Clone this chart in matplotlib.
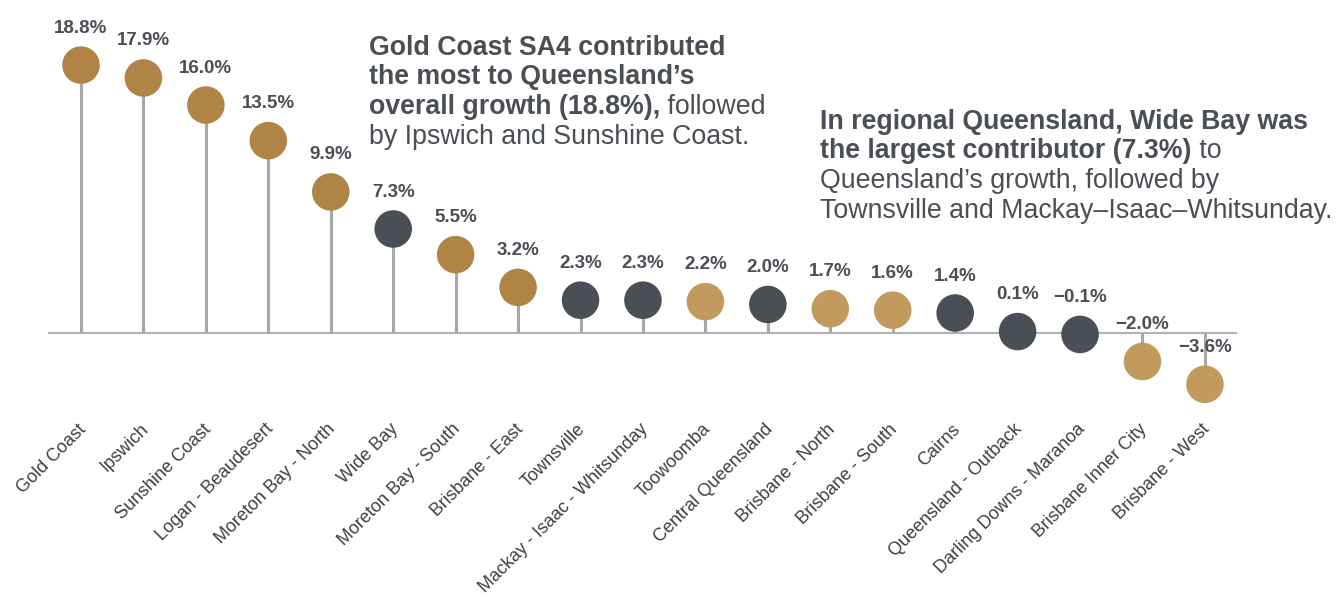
import matplotlib
matplotlib.use('Agg')
import matplotlib.pyplot as plt

plt.rcParams['font.family'] = ['Liberation Sans', 'DejaVu Sans']

# SA4 regions, share of Queensland's population growth (%)
regions = ['Gold Coast', 'Ipswich', 'Sunshine Coast', 'Logan - Beaudesert',
           'Moreton Bay - North', 'Wide Bay', 'Moreton Bay - South',
           'Brisbane - East', 'Townsville', 'Mackay - Isaac - Whitsunday',
           'Toowoomba', 'Central Queensland', 'Brisbane - North',
           'Brisbane - South', 'Cairns', 'Queensland - Outback',
           'Darling Downs - Maranoa', 'Brisbane Inner City', 'Brisbane - West']
growth_share = [18.8, 17.9, 16.0, 13.5, 9.9, 7.3, 5.5, 3.2, 2.3, 2.3,
                2.2, 2.0, 1.7, 1.6, 1.4, 0.1, -0.1, -2.0, -3.6]
area_type = ['outer', 'outer', 'outer', 'outer', 'outer', 'regional', 'outer',
             'outer', 'regional', 'regional', 'inner', 'regional', 'inner',
             'inner', 'regional', 'regional', 'regional', 'inner', 'inner']

colours = {'outer': '#B08445', 'regional': '#4A4E55', 'inner': '#C29A5E'}
text_col = '#4A4F55'

W, H = 1340, 597
fig = plt.figure(figsize=(W / 100, H / 100), dpi=100)
ax = fig.add_axes([0, 0, 1, 1])
ax.set_xlim(-1.297, 20.163)
ax.set_ylim(-18.53, 23.37)
ax.axis('off')

x = list(range(len(regions)))
ax.hlines(0, -0.53, len(regions) - 0.49, color='#B3B3B3', lw=1.5, zorder=1)
ax.vlines(x, 0, growth_share, color='#A8A8A8', lw=2.2, zorder=2)
ax.scatter(x, growth_share, s=730, c=[colours[a] for a in area_type],
           linewidths=0, zorder=3)

for i, v in enumerate(growth_share):
    lbl = f'{v:.1f}%'.replace('-', '\u2212')
    ax.annotate(lbl, (i, v), xytext=(0, 26.6), textcoords='offset points',
                ha='center', va='center', fontsize=13.5, fontweight='bold',
                color=text_col)
    ax.text(i - 0.06, -6.15, regions[i], rotation=45, rotation_mode='anchor',
            ha='right', va='top', fontsize=13, color='#404040')


# commentary blocks: list of lines, each line a list of (text, bold)
def text_block(x0, y0, lines, step=29.5, size=19.3):
    renderer = fig.canvas.get_renderer()
    for k, parts in enumerate(lines):
        xp = x0
        yp = y0 + k * step
        for txt, bold in parts:
            t = fig.text(xp / W, 1 - yp / H, txt, fontsize=size,
                         fontweight='bold' if bold else 'normal',
                         color=text_col, ha='left', va='baseline')
            xp = t.get_window_extent(renderer).x1


text_block(369, 55, [
    [('Gold Coast SA4 contributed', True)],
    [('the most to Queensland\u2019s', True)],
    [('overall growth (18.8%),', True), (' followed', False)],
    [('by Ipswich and Sunshine Coast.', False)],
])

text_block(820, 129, [
    [('In regional Queensland, Wide Bay was', True)],
    [('the largest contributor (7.3%)', True), (' to', False)],
    [('Queensland\u2019s growth, followed by', False)],
    [('Townsville and Mackay\u2013Isaac\u2013Whitsunday.', False)],
])

fig.savefig('out.png', dpi=100)
